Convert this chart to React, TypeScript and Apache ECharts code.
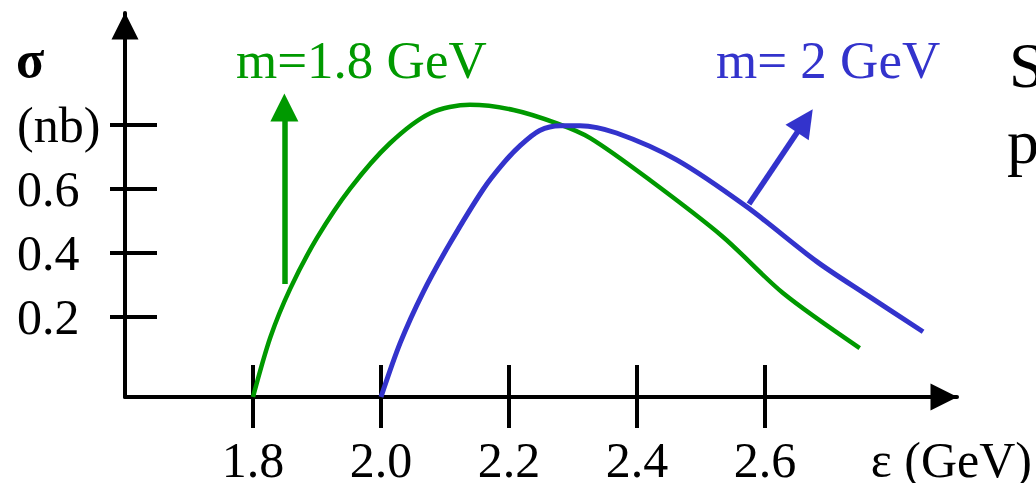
import React, { useEffect, useRef } from "react";
import * as echarts from "echarts";

const xTicks = [1.8, 2.0, 2.2, 2.4, 2.6];
const yTicks = [0.2, 0.4, 0.6, 0.8];
const yTickLabels = ["0.2", "0.4", "0.6", "(nb)"];

const greenCurve: [number, number][] = [
  [1.8, -0.05], [1.827, 0.136], [1.858, 0.288], [1.9, 0.447], [1.952, 0.602],
  [2.014, 0.743], [2.077, 0.837], [2.139, 0.863], [2.207, 0.847], [2.275, 0.805],
  [2.327, 0.759], [2.42, 0.628], [2.534, 0.451], [2.628, 0.275], [2.748, 0.103],
];
const blueCurve: [number, number][] = [
  [2.0, -0.05], [2.03, 0.119], [2.066, 0.278], [2.108, 0.431], [2.16, 0.6],
  [2.191, 0.68], [2.217, 0.735], [2.248, 0.783], [2.28, 0.798], [2.311, 0.798],
  [2.368, 0.775], [2.462, 0.691], [2.571, 0.545], [2.681, 0.373], [2.759, 0.269],
  [2.847, 0.154],
];
const greenArrow: [number, number][] = [[1.849, 0.303], [1.849, 0.855]];
const blueArrow: [number, number][] = [[2.575, 0.553], [2.6624, 0.8128]];

const GREEN = "#009900";
const BLUE = "#3333cc";
const FONT = '"Liberation Serif", "Times New Roman", serif';

export default function App() {
  const ref = useRef<HTMLDivElement>(null);
  useEffect(() => {
    if (!ref.current) return;
    const chart = echarts.init(ref.current, null, { renderer: "svg" });
    const axisLine = { color: "#000", width: 4 };
    chart.setOption({
      animation: false,
      backgroundColor: "#fff",
      grid: { left: 125, right: 79, top: 13, bottom: 86, containLabel: false, outerBoundsMode: "none" },
      xAxis: [
        {
          type: "value", min: 1.6, max: 2.9, position: "bottom",
          name: "ε (GeV)", nameLocation: "end", nameGap: 75,
          nameTextStyle: { fontFamily: FONT, fontSize: 50, color: "#000", align: "right", verticalAlign: "top", padding: [38, 0, 0, 0] },
          axisLine: { show: true, onZero: false, lineStyle: axisLine, symbol: ["none", "triangle"], symbolSize: [27, 27], symbolOffset: [0, -13] },
          axisTick: { show: true, inside: true, length: 32, lineStyle: axisLine, customValues: xTicks },
          axisLabel: { show: true, customValues: xTicks, margin: 38, fontFamily: FONT, fontSize: 50, color: "#000", formatter: (v: number) => v.toFixed(1) },
          splitLine: { show: false },
        },
        {
          type: "value", min: 1.6, max: 2.9, position: "bottom",
          axisLine: { show: false, onZero: false },
          axisTick: { show: true, inside: false, length: 31, lineStyle: axisLine, customValues: xTicks },
          axisLabel: { show: false },
          splitLine: { show: false },
        },
      ],
      yAxis: [
        {
          type: "value", min: -0.05, max: 1.15, position: "left",
          axisLine: { show: true, onZero: false, lineStyle: axisLine, symbol: ["none", "triangle"], symbolSize: [27, 27], symbolOffset: [0, -13] },
          axisTick: { show: true, inside: true, length: 32, lineStyle: axisLine, customValues: yTicks },
          axisLabel: {
            show: true, customValues: yTicks, align: "left", margin: 108,
            fontFamily: FONT, fontSize: 50, color: "#000",
            formatter: (v: number) => {
              const i = yTicks.findIndex((t) => Math.abs(t - v) < 1e-6);
              return i >= 0 ? yTickLabels[i] : "";
            },
          },
          splitLine: { show: false },
        },
        {
          type: "value", min: -0.05, max: 1.15, position: "left",
          axisLine: { show: false, onZero: false },
          axisTick: { show: true, inside: false, length: 15, lineStyle: axisLine, customValues: yTicks },
          axisLabel: { show: false },
          splitLine: { show: false },
        },
      ],
      series: [
        {
          type: "line", name: "m=1.8 GeV", data: greenCurve, smooth: 0.3, symbol: "none",
          lineStyle: { color: GREEN, width: 4.5 }, itemStyle: { color: GREEN }, z: 3,
        },
        {
          type: "line", name: "m= 2 GeV", data: blueCurve, smooth: 0.3, symbol: "none",
          lineStyle: { color: BLUE, width: 5 }, itemStyle: { color: BLUE }, z: 4,
        },
        {
          type: "lines", coordinateSystem: "cartesian2d", silent: true, z: 5,
          symbol: ["none", "triangle"], symbolSize: [28, 28],
          lineStyle: { width: 5.5, opacity: 1, curveness: 0 },
          data: [
            { coords: greenArrow, lineStyle: { color: GREEN }, itemStyle: { color: GREEN } },
            { coords: blueArrow, lineStyle: { color: BLUE }, itemStyle: { color: BLUE } },
          ],
        },
      ],
      graphic: [
        { type: "text", x: 16, y: 59, style: { text: "σ", fontFamily: FONT, fontSize: 52, fontWeight: "bold", fill: "#000", align: "left", verticalAlign: "middle" } },
        { type: "text", x: 236, y: 60, style: { text: "m=1.8 GeV", fontFamily: FONT, fontSize: 53, fill: GREEN, align: "left", verticalAlign: "middle" } },
        { type: "text", x: 716, y: 60, style: { text: "m= 2 GeV", fontFamily: FONT, fontSize: 53, fill: BLUE, align: "left", verticalAlign: "middle" } },
        { type: "text", x: 1009, y: 65, style: { text: "S", fontFamily: FONT, fontSize: 64, fill: "#000", align: "left", verticalAlign: "middle" } },
        { type: "text", x: 1007, y: 141, style: { text: "p", fontFamily: FONT, fontSize: 64, fill: "#000", align: "left", verticalAlign: "middle" } },
      ],
    });
    return () => chart.dispose();
  }, []);
  return <div ref={ref} style={{ position: "absolute", left: 0, top: 0, width: 1036, height: 483 }} />;
}
